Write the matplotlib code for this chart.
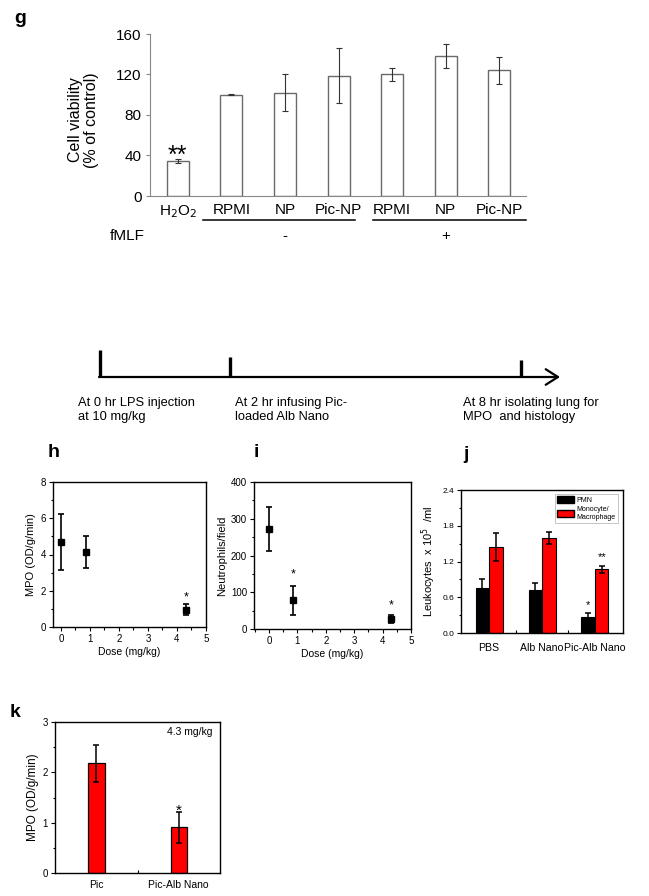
import matplotlib
matplotlib.use('Agg')
import matplotlib.pyplot as plt
import numpy as np
from matplotlib.ticker import MultipleLocator, FormatStrFormatter
from matplotlib.patches import Patch

plt.rcParams['font.family'] = ['Liberation Sans', 'DejaVu Sans']

# ---------------- data ----------------
g_labels = ['H$_2$O$_2$', 'RPMI', 'NP', 'Pic-NP', 'RPMI', 'NP', 'Pic-NP']
g_values = [35, 100, 102, 119, 120, 138, 124]
g_errors = [2, 0.5, 18, 27, 6, 12, 13]
g_fmlf = ['-', '+']

h_dose = [0, 0.85, 4.3]
h_mpo = [4.7, 4.15, 0.95]
h_err = [1.55, 0.88, 0.3]

i_dose = [0, 0.85, 4.3]
i_neut = [272, 78, 27]
i_err = [59, 39, 10]

j_groups = ['PBS', 'Alb Nano', 'Pic-Alb Nano']
j_pmn = [0.75, 0.72, 0.27]
j_pmn_err = [0.15, 0.12, 0.07]
j_mono = [1.44, 1.60, 1.07]
j_mono_err = [0.23, 0.10, 0.06]

k_groups = ['Pic', 'Pic-Alb Nano']
k_mpo = [2.18, 0.905]
k_err = [0.37, 0.30]

timeline_text = ['At 0 hr LPS injection\nat 10 mg/kg',
                 'At 2 hr infusing Pic-\nloaded Alb Nano',
                 'At 8 hr isolating lung for\nMPO  and histology']

# ---------------- figure ----------------
W, H = 649, 896
fig = plt.figure(figsize=(W / 100, H / 100), dpi=100)


def add_ax(l, t, r, b):
    return fig.add_axes([l / W, 1 - b / H, (r - l) / W, (b - t) / H])


def star(ax, x, y, s, fs, **kw):
    ax.annotate(s, (x, y), xytext=(0, -0.58 * fs), textcoords='offset points',
                ha='center', va='baseline', fontsize=fs, **kw)


# overlay axes in pixel coords for diagram / panel letters
ov = fig.add_axes([0, 0, 1, 1])
ov.set_xlim(0, W)
ov.set_ylim(H, 0)
ov.axis('off')
ov.patch.set_alpha(0)

# panel letters
for lx, ly, lt in [(14, 23, 'g'), (48, 457, 'h'), (254, 457, 'i'),
                   (463, 459, 'j'), (10, 717, 'k')]:
    ov.text(lx, ly, lt, fontsize=14, fontweight='bold', va='baseline', ha='left')

# timeline
ov.annotate('', xy=(560, 377), xytext=(99, 377),
            arrowprops=dict(arrowstyle='->,head_length=0.55,head_width=0.35',
                            lw=1.6, color='black', mutation_scale=16,
                            shrinkA=0, shrinkB=0))
for tx, ttop in [(100, 350), (230, 357), (521, 360)]:
    ov.plot([tx, tx], [ttop, 377], color='black', lw=2.4, solid_capstyle='butt')
for tx, txt in zip([78, 235, 463], timeline_text):
    ov.text(tx, 397, txt, fontsize=9.3, va='top', ha='left', linespacing=1.25)

# ---------------- panel g ----------------
axg = add_ax(150, 34, 526, 196)
xg = np.arange(len(g_values))
axg.bar(xg, g_values, width=0.41, color='white', edgecolor='#6a6a6a', linewidth=1.0)
axg.errorbar(xg, g_values, yerr=g_errors, fmt='none', ecolor='#333333',
             elinewidth=0.8, capsize=2, capthick=0.8)
axg.set_xlim(-0.52, 6.5)
axg.set_ylim(0, 160)
axg.set_yticks([0, 40, 80, 120, 160])
axg.set_xticks(xg)
axg.set_xticklabels(g_labels)
axg.tick_params(axis='x', length=0, labelsize=11, pad=5)
axg.tick_params(axis='y', length=3, color='#888888', labelsize=11, pad=3)
for s in ['top', 'right']:
    axg.spines[s].set_visible(False)
for s in ['left', 'bottom']:
    axg.spines[s].set_color('#888888')
axg.set_ylabel('Cell viability\n(% of control)', fontsize=11.5, linespacing=1.1)
axg.yaxis.set_label_coords(-0.135, 0.47)
star(axg, 0, 47.4, '**', 18)
tr = axg.get_xaxis_transform()
axg.plot([0.47, 3.31], [-0.148, -0.148], transform=tr, color='black', lw=1.1, clip_on=False)
axg.plot([3.64, 6.5], [-0.148, -0.148], transform=tr, color='black', lw=1.1, clip_on=False)
axg.text(-0.95, -0.247, 'fMLF', transform=tr, fontsize=11, ha='center', va='center')
axg.text(2, -0.247, g_fmlf[0], transform=tr, fontsize=11, ha='center', va='center')
axg.text(5, -0.247, g_fmlf[1], transform=tr, fontsize=11, ha='center', va='center')


def box_style(ax, lab=7):
    for s in ax.spines.values():
        s.set_color('black')
        s.set_linewidth(1.0)
    ax.tick_params(which='both', direction='out', top=False, right=False,
                   labelsize=lab, width=0.8, pad=2)
    ax.tick_params(which='major', length=3)
    ax.tick_params(which='minor', length=1.8)


# ---------------- panel h ----------------
axh = add_ax(53, 482, 206, 627)
axh.errorbar(h_dose, h_mpo, yerr=h_err, fmt='s', color='black', ms=5,
             capsize=2, elinewidth=1.2, capthick=1.2)
axh.set_xlim(-0.27, 5)
axh.set_ylim(0, 8)
axh.set_xticks(range(6))
axh.set_yticks([0, 2, 4, 6, 8])
axh.yaxis.set_minor_locator(MultipleLocator(1))
axh.xaxis.set_minor_locator(MultipleLocator(0.5))
box_style(axh)
axh.set_xlabel('Dose (mg/kg)', fontsize=7.5, labelpad=2)
axh.set_ylabel('MPO (OD/g/min)', fontsize=8, labelpad=3)
star(axh, 4.3, 1.85, '*', 9)

# ---------------- panel i ----------------
axi = add_ax(254, 482, 411, 629)
axi.errorbar(i_dose, i_neut, yerr=i_err, fmt='s', color='black', ms=5,
             capsize=2, elinewidth=1.2, capthick=1.2)
axi.set_xlim(-0.53, 5)
axi.set_ylim(0, 400)
axi.set_xticks(range(6))
axi.set_yticks([0, 100, 200, 300, 400])
axi.yaxis.set_minor_locator(MultipleLocator(50))
axi.xaxis.set_minor_locator(MultipleLocator(0.5))
box_style(axi)
axi.set_xlabel('Dose (mg/kg)', fontsize=7.5, labelpad=2)
axi.set_ylabel('Neutrophils/field', fontsize=8, labelpad=3)
star(axi, 0.85, 160, '*', 9)
star(axi, 4.3, 75, '*', 9)

# ---------------- panel j ----------------
axj = add_ax(461, 490, 623, 633)
xj = np.arange(len(j_groups))
bw = 0.25
axj.bar(xj - 0.13, j_pmn, width=bw, color='black', edgecolor='black', linewidth=0.8)
axj.bar(xj + 0.13, j_mono, width=bw, color='#ff0000', edgecolor='black', linewidth=0.8)
axj.errorbar(xj - 0.13, j_pmn, yerr=j_pmn_err, fmt='none', ecolor='black',
             elinewidth=1.1, capsize=2, capthick=1.1)
axj.errorbar(xj + 0.13, j_mono, yerr=j_mono_err, fmt='none', ecolor='black',
             elinewidth=1.1, capsize=2, capthick=1.1)
axj.set_xlim(-0.53, 2.53)
axj.set_ylim(0, 2.4)
axj.set_yticks([0, 0.6, 1.2, 1.8, 2.4])
axj.yaxis.set_major_formatter(FormatStrFormatter('%.1f'))
axj.yaxis.set_minor_locator(MultipleLocator(0.3))
box_style(axj, lab=6)
axj.set_xticks(xj)
axj.set_xticklabels(j_groups, fontsize=7.6)
axj.set_xticks([0.5, 1.5], minor=True)
axj.tick_params(axis='x', which='major', length=0, pad=7)
axj.tick_params(axis='x', which='minor', direction='in', length=2)
axj.set_ylabel('Leukocytes  x 10$^{5}$  /ml', fontsize=8, labelpad=3)
star(axj, 2 - 0.13, 0.52, '*', 8)
star(axj, 2 + 0.13, 1.33, '**', 8)
leg = axj.legend(handles=[Patch(facecolor='black', edgecolor='black', label='PMN'),
                          Patch(facecolor='#ff0000', edgecolor='black', label='Monocyte/\nMacrophage')],
                 loc='upper right', bbox_to_anchor=(0.99, 0.995), fontsize=5,
                 frameon=True, fancybox=False, edgecolor='#bbbbbb', framealpha=1,
                 handlelength=2.4, handleheight=1.1, borderpad=0.3, labelspacing=0.25,
                 handletextpad=0.4)
leg.get_frame().set_linewidth(0.6)

# ---------------- panel k ----------------
axk = add_ax(55, 722, 220, 873)
xk = np.arange(len(k_groups))
axk.bar(xk, k_mpo, width=0.2, color='#ff0000', edgecolor='black', linewidth=0.9)
axk.errorbar(xk, k_mpo, yerr=k_err, fmt='none', ecolor='black',
             elinewidth=1.1, capsize=2, capthick=1.1)
axk.set_xlim(-0.5, 1.5)
axk.set_ylim(0, 3)
axk.set_yticks([0, 1, 2, 3])
axk.yaxis.set_minor_locator(MultipleLocator(0.5))
box_style(axk, lab=7)
axk.set_xticks(xk)
axk.set_xticklabels(k_groups, fontsize=7.5)
axk.set_xticks([0.5], minor=True)
axk.tick_params(axis='x', which='major', length=0, pad=5)
axk.tick_params(axis='x', which='minor', direction='in', length=2)
axk.set_ylabel('MPO (OD/g/min)', fontsize=8.5, labelpad=3)
axk.text(0.957, 0.934, '4.3 mg/kg', transform=axk.transAxes, fontsize=7.5,
         ha='right', va='center')
star(axk, 1, 1.34, '*', 11)

fig.savefig('out.png', dpi=100)
